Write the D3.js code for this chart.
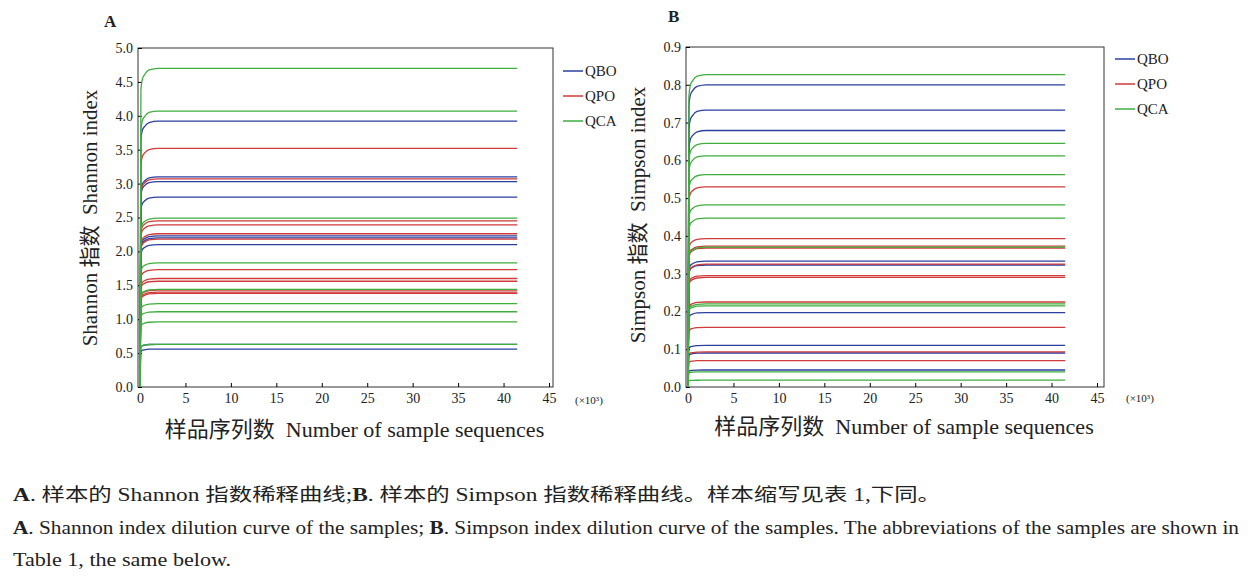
<!DOCTYPE html>
<html><head><meta charset="utf-8">
<script src="https://cdn.jsdelivr.net/npm/d3@7"></script>
<style>
body{margin:0;background:#fff;}
svg text{font-family:'Liberation Serif','DejaVu Serif','Noto Sans CJK SC',serif;fill:#222;}
</style></head>
<body><svg id="c" width="1248" height="578"></svg>
<script>
// plateau values of each rarefaction curve
var shannonQBO = [3.92, 3.10, 3.03, 2.80, 2.23, 2.20, 2.10, 0.63, 0.56];
var shannonQPO = [3.52, 3.07, 2.45, 2.39, 2.26, 2.18, 1.73, 1.60, 1.56, 1.43, 1.40, 1.38];
var shannonQCA = [4.70, 4.07, 2.49, 1.83, 1.44, 1.23, 1.11, 0.96, 0.63];
var simpsonQBO = [0.800, 0.733, 0.679, 0.333, 0.323, 0.197, 0.110, 0.090, 0.045];
var simpsonQPO = [0.530, 0.393, 0.373, 0.368, 0.325, 0.295, 0.290, 0.225, 0.158, 0.093, 0.070];
var simpsonQCA = [0.827, 0.645, 0.612, 0.562, 0.482, 0.447, 0.370, 0.220, 0.215, 0.040, 0.018];
// shared curve shape (sequences x10^3, fraction of plateau)
var shapeX = [0, 0.1, 0.25, 0.5, 1.0, 2.0, 41.5];
var shapeF = [0, 0.93, 0.965, 0.98, 0.995, 1, 1];
var xTicks = [0, 5, 10, 15, 20, 25, 30, 35, 40, 45];
var seriesNames = ["QBO", "QPO", "QCA"];
var colors = ["#2b3f9e", "#d03a3a", "#3fae3f"];
var FONT = "'Liberation Serif','DejaVu Serif','Noto Sans CJK SC',serif";

var svg = d3.select("#c").attr("font-family", FONT);

function panel(o){
	var g = svg.append("g");
	var x = d3.scaleLinear().domain([0,45]).range([o.x0, o.x1]);
	var y = d3.scaleLinear().domain([0,o.ymax]).range([387, o.top]);
	g.append("rect").attr("x", o.x0-2).attr("y", o.top).attr("width", o.right-o.x0+2).attr("height", 387-o.top)
		.attr("fill","none").attr("stroke","#333").attr("stroke-width",1);
	g.append("g").attr("transform","translate(0,387)")
		.call(d3.axisBottom(x).tickValues(xTicks).tickSize(-4).tickPadding(6))
		.call(function(a){a.select(".domain").remove(); a.selectAll("text").attr("font-size",14).attr("font-family",FONT);});
	g.append("g").attr("transform","translate("+(o.x0-2)+",0)")
		.call(d3.axisLeft(y).tickValues(o.yTicks).tickFormat(d3.format(".1f")).tickSize(-4).tickPadding(5))
		.call(function(a){a.select(".domain").remove(); a.selectAll("text").attr("font-size",14).attr("font-family",FONT);});
	var line = d3.line().x(function(d){return x(d[0]);}).y(function(d){return y(d[1]);}).curve(d3.curveMonotoneX);
	o.series.forEach(function(vals, si){
		vals.forEach(function(v){
			var pts = shapeX.map(function(sx, i){return [sx, v*shapeF[i]];});
			g.append("path").attr("d", line(pts)).attr("fill","none")
				.attr("stroke", colors[si]).attr("stroke-width",1.3);
		});
	});
	seriesNames.forEach(function(n, i){
		var ly = o.legY + i*25;
		g.append("line").attr("x1",o.legX).attr("x2",o.legX+20).attr("y1",ly).attr("y2",ly)
			.attr("stroke",colors[i]).attr("stroke-width",1.5);
		g.append("text").attr("x",o.legX+22).attr("y",ly+5).attr("font-size",15).text(n);
	});
	g.append("text").attr("transform","translate("+o.titleX+","+o.titleY+") rotate(-90)")
		.attr("text-anchor","middle").attr("font-size",21).attr("xml:space","preserve").text(o.title);
	g.append("text").attr("x",(o.x0+o.right)/2+8).attr("y",o.xtY).attr("text-anchor","middle")
		.attr("font-size",22).attr("xml:space","preserve").text("样品序列数  Number of sample sequences");
	g.append("text").attr("x",o.right+22).attr("y",o.unitY).attr("font-size",11).text("(×10³)");
	g.append("text").attr("x",o.labX).attr("y",o.labY).attr("font-size",17).attr("font-weight","bold").text(o.label);
}

panel({x0:140, x1:549, right:553, top:48, ymax:5.0, yTicks:d3.range(0,5.01,0.5),
	series:[shannonQBO, shannonQPO, shannonQCA], legX:563, legY:71,
	title:"Shannon 指数  Shannon index", titleX:97, titleY:218, xtY:437, unitY:404,
	label:"A", labX:104, labY:27});
panel({x0:688, x1:1097, right:1104, top:47, ymax:0.9, yTicks:d3.range(0,0.901,0.1),
	series:[simpsonQBO, simpsonQPO, simpsonQCA], legX:1115, legY:59,
	title:"Simpson 指数  Simpson index", titleX:645, titleY:215, xtY:434, unitY:402,
	label:"B", labX:668, labY:22});

var cap = svg.append("g");
function capLine(y, w, parts){
	var t = cap.append("text").attr("x",13).attr("y",y).attr("font-size",18).attr("xml:space","preserve");
	if (w) t.attr("textLength", w).attr("lengthAdjust","spacingAndGlyphs");
	parts.forEach(function(p){t.append("tspan").attr("font-weight",p[1]?"bold":"normal").text(p[0]);});
}
capLine(501, 928, [["A",1],[". 样本的 Shannon 指数稀释曲线;",0],["B",1],[". 样本的 Simpson 指数稀释曲线。样本缩写见表 1,下同。",0]]);
capLine(534, 1226, [["A",1],[". Shannon index dilution curve of the samples; ",0],["B",1],[". Simpson index dilution curve of the samples. The abbreviations of the samples are shown in",0]]);
capLine(566, 218, [["Table 1, the same below.",0]]);
</script></body></html>
